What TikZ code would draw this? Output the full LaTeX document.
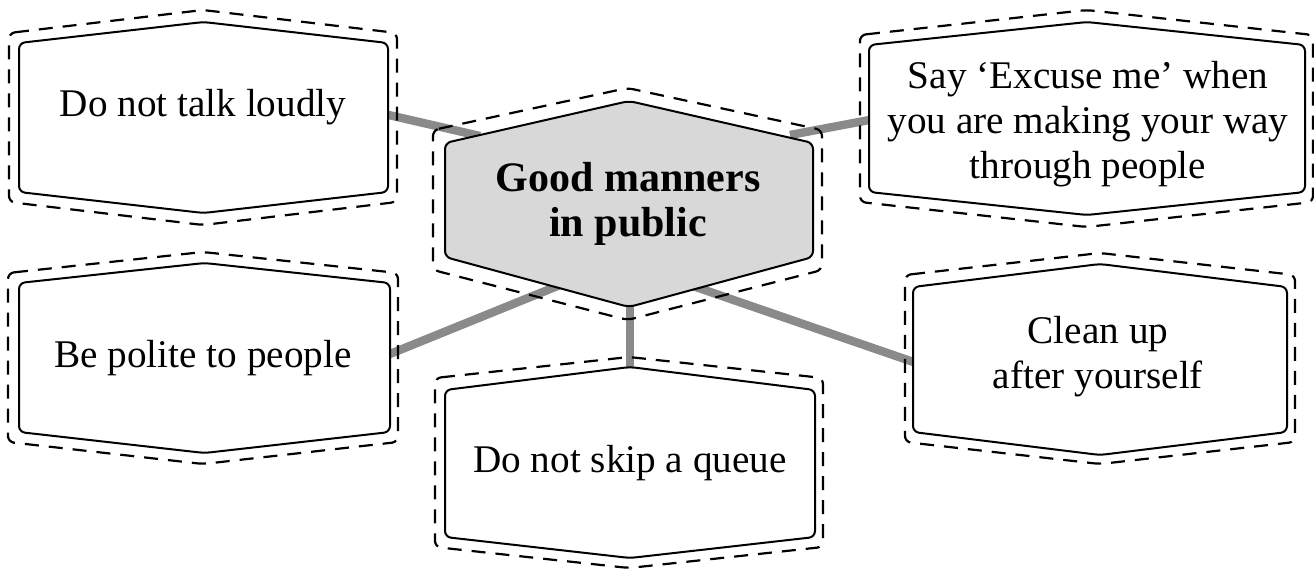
\documentclass[tikz,border=0pt]{standalone}
\usepackage{fontspec}
\setmainfont{Liberation Serif}
\definecolor{linkgray}{HTML}{8A8A8A}
\definecolor{hubgray}{HTML}{D8D8D8}
\newcommand{\hexbox}[7]{%
  \draw[#1] (#2,#5) -- ({(#2+#3)/2},#4) -- (#3,#5) -- (#3,#6) -- ({(#2+#3)/2},#7) -- (#2,#6) -- cycle;}
\begin{document}
\begin{tikzpicture}[x=0.5pt,y=-0.5pt,
  box/.style={draw=black, line width=1pt, fill=white, rounded corners=3pt},
  hub/.style={box, fill=hubgray},
  outer/.style={draw=black, line width=1.1pt, dash pattern=on 7pt off 5pt, rounded corners=3pt},
  link/.style={draw=linkgray, line width=4.2pt},
  lbl/.style={font=\fontsize{19.6}{22.5}\selectfont, align=center, inner sep=0pt},
  hublbl/.style={font=\fontsize{21}{22.5}\selectfont\bfseries, align=center, inner sep=0pt},
]
\useasboundingbox (0,0) rectangle (1314,569);

% connector end points
\coordinate (c1a) at (380,113);
\coordinate (c1b) at (480,136);
\coordinate (c3a) at (790,135);
\coordinate (c3b) at (880,118);
\coordinate (c4a) at (380,358);
\coordinate (c4b) at (560,285);
\coordinate (c6a) at (690,285);
\coordinate (c6b) at (925,366);
\coordinate (c5a) at (630,300);
\coordinate (c5b) at (630,375);

% connectors
\draw[link] (c1a) -- (c1b);
\draw[link] (c3a) -- (c3b);
\draw[link] (c4a) -- (c4b);
\draw[link] (c6a) -- (c6b);
\draw[link] (c5a) -- (c5b);

% dashed outlines
\hexbox{outer}{9}{397}{10}{33}{202}{225}
\hexbox{outer}{860}{1313}{10}{35}{202}{227}
\hexbox{outer}{8}{398}{252}{273}{442}{464}
\hexbox{outer}{435}{823}{357}{378}{547}{568}
\hexbox{outer}{905}{1295}{253}{275}{442}{464}
\hexbox{outer}{433}{822}{88}{130}{270}{320}

% solid boxes
\hexbox{box}{19}{388}{22}{43}{192}{213}
\hexbox{box}{869}{1305}{22}{45}{192}{215}
\hexbox{box}{19}{390}{263}{283}{432}{453}
\hexbox{box}{445}{815}{367}{390}{537}{558}
\hexbox{box}{913}{1287}{264}{287}{432}{455}
\hexbox{hub}{445}{813}{101}{143}{257}{307}

% labels
\node[hublbl] (hub) at (628,204) {Good manners\\in public};
\node[lbl] (talk) at (203,107) {Do not talk loudly};
\node[lbl] (excuse) at (1088,124) {Say ‘Excuse me’ when\\you are making your way\\through people};
\node[lbl] (polite) at (203,358) {Be polite to people};
\node[lbl] (queue) at (630,463) {Do not skip a queue};
\node[lbl] (clean) at (1098,357) {Clean up\\after yourself};
\end{tikzpicture}
\end{document}
